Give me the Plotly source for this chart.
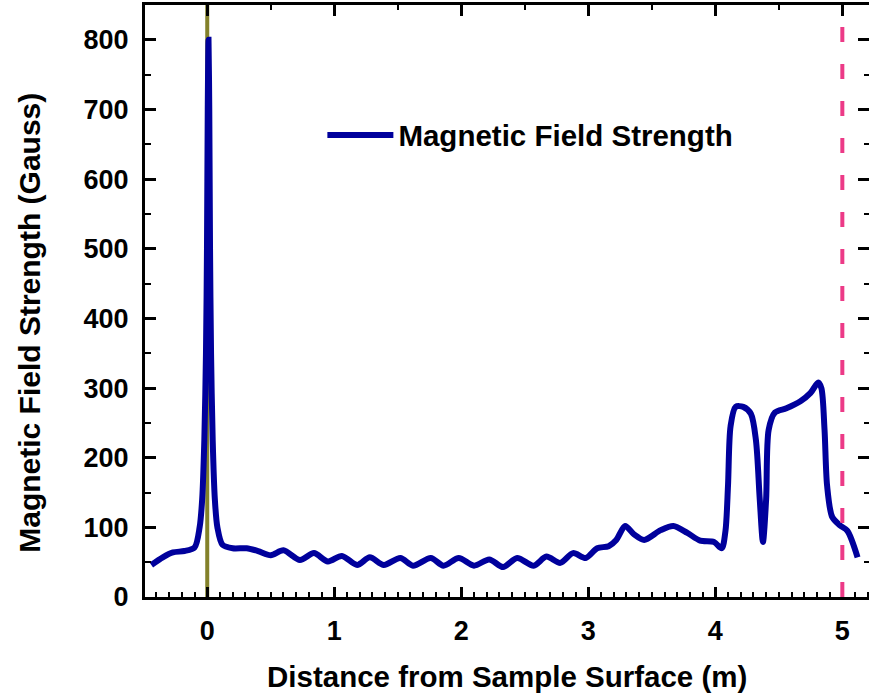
import plotly.graph_objects as go

# Distance from sample surface (m)
distance = [
    -0.44, -0.35, -0.27, -0.18, -0.10, -0.06, -0.04, -0.023, -0.01, -0.002, 0.004,
    0.01, 0.016, 0.022, 0.03, 0.043, 0.06, 0.08, 0.12, 0.20, 0.31, 0.40, 0.50,
    0.60, 0.73, 0.84, 0.95, 1.06, 1.18, 1.28, 1.39, 1.52, 1.62, 1.76, 1.86, 1.98,
    2.10, 2.22, 2.33, 2.44, 2.57, 2.67, 2.78, 2.88, 2.98, 3.07, 3.16, 3.22, 3.29,
    3.36, 3.44, 3.57, 3.67, 3.78, 3.88, 3.99, 4.05, 4.08, 4.10, 4.12, 4.16, 4.22,
    4.28, 4.32, 4.35, 4.375, 4.40, 4.42, 4.47, 4.56, 4.67, 4.75, 4.81, 4.835, 4.86,
    4.88, 4.92, 4.98, 5.04, 5.12,
]
# Magnetic field strength (Gauss)
field = [
    46, 57, 64, 66, 71, 100, 140, 225, 350, 500, 700,
    800, 700, 500, 350, 225, 140, 100, 75, 70, 70, 66, 60,
    67, 53, 63, 51, 59, 46, 57, 46, 56, 45, 56, 45, 56,
    45, 54, 43, 56, 45, 58, 49, 63, 56, 70, 73, 82, 102,
    90, 82, 96, 102, 92, 81, 79, 70, 95, 160, 245, 273, 273,
    263, 225, 140, 79, 140, 240, 265, 271, 281, 293, 308, 300, 240,
    160, 115, 103, 95, 57,
]

x_range = [-0.49, 5.21]
y_range = [0, 850]
x_ticks = [0, 1, 2, 3, 4, 5]
y_ticks = [0, 100, 200, 300, 400, 500, 600, 700, 800]
surface_pos = 0
end_pos = 5

series_name = "Magnetic Field Strength"
x_title = "Distance from Sample Surface (m)"
y_title = "Magnetic Field Strength (Gauss)"

FONT = "Liberation Sans, Arial, sans-serif"
BLUE = "#00009C"

fig = go.Figure()
fig.add_trace(go.Scatter(
    x=distance, y=field, mode="lines", name=series_name,
    line=dict(color=BLUE, width=6, shape="spline", smoothing=0.8),
))
# invisible trace to activate the mirrored top/right axes
fig.add_trace(go.Scatter(
    x=distance, y=field, mode="lines", xaxis="x2", yaxis="y2",
    line=dict(width=0, color="rgba(0,0,0,0)"), showlegend=False, hoverinfo="skip",
))

fig.add_shape(type="line", xref="x", yref="y", x0=surface_pos, x1=surface_pos,
              y0=y_range[0], y1=y_range[1], layer="below",
              line=dict(color="#83812A", width=4))
fig.add_shape(type="line", xref="x", yref="y", x0=end_pos, x1=end_pos,
              y0=y_range[0], y1=y_range[1], layer="above",
              line=dict(color="#EC3A87", width=4, dash="15px,22px"))

tickfont = dict(family=FONT, size=27, color="black", weight="bold")

fig.update_layout(
    width=869, height=694,
    margin=dict(l=145, r=0, t=5, b=97),
    paper_bgcolor="white", plot_bgcolor="white",
    showlegend=True,
    legend=dict(x=0.245, y=0.78, xanchor="left", yanchor="middle",
                bgcolor="rgba(0,0,0,0)", itemwidth=66,
                font=dict(family=FONT, size=29.5, color="black", weight="bold")),
    xaxis=dict(range=x_range, tickvals=x_ticks, showgrid=False, zeroline=False,
               showline=True, linecolor="black", linewidth=3,
               ticks="inside", ticklen=10, tickwidth=2.5, tickcolor="black",
               minor=dict(dtick=0.1, tick0=0, ticks="inside", ticklen=5, tickwidth=2, tickcolor="black"),
               tickfont=tickfont, ticklabelstandoff=8),
    yaxis=dict(range=y_range, tickvals=y_ticks, showgrid=False, zeroline=False,
               showline=True, linecolor="black", linewidth=3,
               ticks="inside", ticklen=11, tickwidth=2.5, tickcolor="black",
               minor=dict(dtick=50, tick0=0, ticks="inside", ticklen=6, tickwidth=2, tickcolor="black"),
               tickfont=tickfont, ticklabelstandoff=8),
    xaxis2=dict(range=x_range, overlaying="x", side="top", anchor="y2",
                tickvals=x_ticks, showticklabels=False, showgrid=False, zeroline=False,
                showline=True, linecolor="black", linewidth=3,
                ticks="inside", ticklen=11, tickwidth=2.5, tickcolor="black",
                minor=dict(dtick=0.5, tick0=0, ticks="inside", ticklen=5, tickwidth=2, tickcolor="black")),
    yaxis2=dict(range=y_range, overlaying="y", side="right", anchor="x2",
                tickvals=y_ticks, showticklabels=False, showgrid=False, zeroline=False,
                showline=False,
                ticks="inside", ticklen=11, tickwidth=2.5, tickcolor="black",
                minor=dict(dtick=50, tick0=0, ticks="inside", ticklen=5, tickwidth=2, tickcolor="black")),
)

fig.add_annotation(text=y_title, xref="paper", yref="paper", x=-0.159, y=0.463,
                   textangle=-90, showarrow=False, xanchor="center", yanchor="middle",
                   font=dict(family=FONT, size=30, color="black", weight="bold"))
fig.add_annotation(text=x_title, xref="paper", yref="paper", x=0.5, y=-0.135,
                   showarrow=False, xanchor="center", yanchor="middle",
                   font=dict(family=FONT, size=29.5, color="black", weight="bold"))

fig.write_html("out.html", config={"displayModeBar": False},
               post_script="document.body.style.margin='0px';document.body.style.overflow='hidden';")
